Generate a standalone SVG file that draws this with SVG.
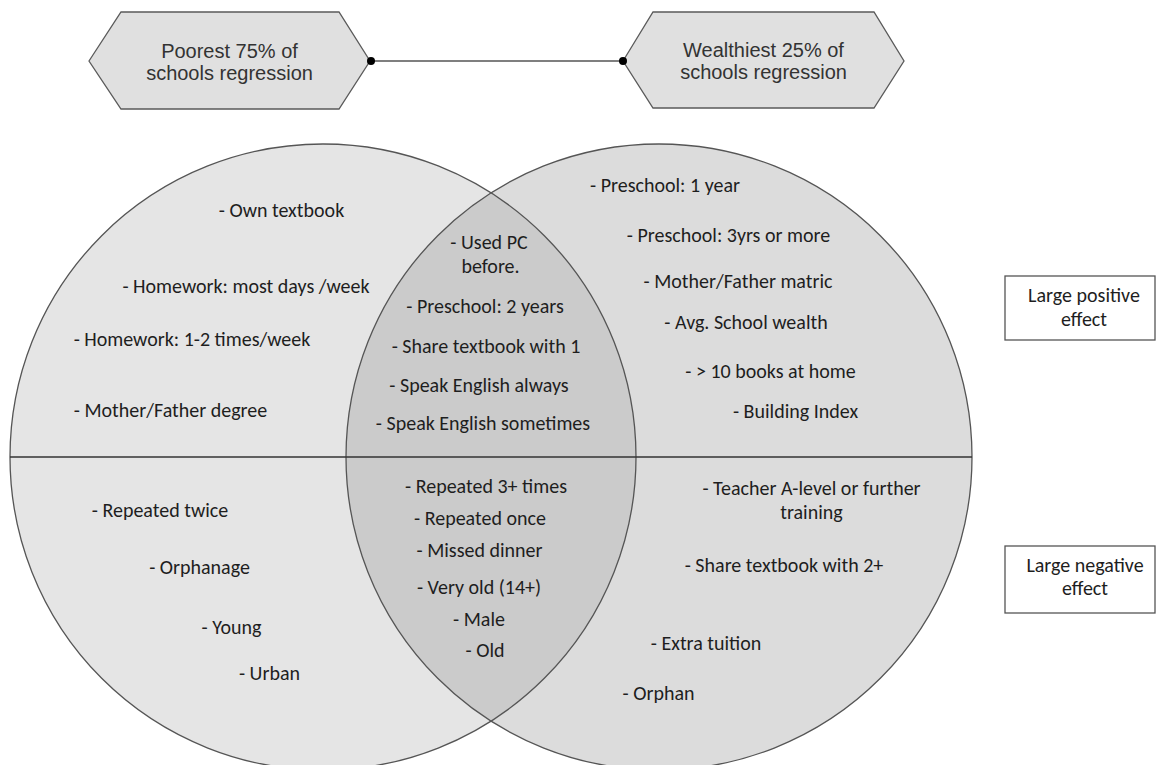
<svg xmlns="http://www.w3.org/2000/svg" width="1157" height="765" viewBox="0 0 1157 765">
<style>
.hex{fill:#e0e0e0;stroke:#5a5a5a;stroke-width:1.3}
.ht{font-family:"Liberation Sans",Arial,sans-serif;font-size:20px;fill:#333;text-anchor:middle}
.t{font-family:Carlito,Calibri,Lato,sans-serif;font-size:20px;fill:#1e1e1e;text-anchor:middle}
.box{fill:#fff;stroke:#555;stroke-width:1.3}
.outline{fill:none;stroke:#555;stroke-width:1.3}
</style>
<rect width="1157" height="765" fill="#fff"/>
<g id="venn">
<circle cx="323" cy="457" r="313" fill="#e5e5e5"/>
<circle cx="659" cy="457" r="313" fill="#dcdcdc"/>
<path d="M491,192.9 A313,313 0 0 1 491,721.1 A313,313 0 0 1 491,192.9 Z" fill="#cbcbcb"/>
<circle class="outline" cx="323" cy="457" r="313"/>
<circle class="outline" cx="659" cy="457" r="313"/>
<line x1="10" y1="457" x2="972" y2="457" stroke="#333" stroke-width="1.5"/>
</g>
<g id="node-poorest">
<polygon class="hex" points="89,61 121,12 339,12 370,61 339,109 121,109"/>
<text class="ht" x="229.5" y="58">Poorest 75% of</text>
<text class="ht" x="229.5" y="80">schools regression</text>
</g>
<g id="node-wealthiest">
<polygon class="hex" points="623,61 653,12 874,12 904,61 874,108 653,108"/>
<text class="ht" x="763.5" y="57">Wealthiest 25% of</text>
<text class="ht" x="763.5" y="79">schools regression</text>
</g>
<g id="connectors">
<line x1="371" y1="61" x2="623" y2="61" stroke="#555" stroke-width="1.5"/>
<circle cx="371" cy="61" r="4" fill="#000"/>
<circle cx="623" cy="61" r="4" fill="#000"/>
</g>
<g id="node-positive">
<rect class="box" x="1005" y="276" width="150" height="64"/>
<text class="t" x="1084" y="302">Large positive</text>
<text class="t" x="1084" y="326">effect</text>
</g>
<g id="node-negative">
<rect class="box" x="1005" y="546" width="150" height="67"/>
<text class="t" x="1085" y="572">Large negative</text>
<text class="t" x="1085" y="595">effect</text>
</g>
<g id="left-upper">
<text class="t" x="281.5" y="217">- Own textbook</text>
<text class="t" x="246" y="293">- Homework: most days /week</text>
<text class="t" x="192" y="346">- Homework: 1-2 times/week</text>
<text class="t" x="170.5" y="417">- Mother/Father degree</text>
</g>
<g id="left-lower">
<text class="t" x="160" y="517">- Repeated twice</text>
<text class="t" x="199.5" y="574">- Orphanage</text>
<text class="t" x="231.5" y="634">- Young</text>
<text class="t" x="269.5" y="680">- Urban</text>
</g>
<g id="both-upper">
<text class="t" x="489" y="249">- Used PC</text>
<text class="t" x="490.5" y="273">before.</text>
<text class="t" x="485" y="313">- Preschool: 2 years</text>
<text class="t" x="486" y="353">- Share textbook with 1</text>
<text class="t" x="479" y="392">- Speak English always</text>
<text class="t" x="483" y="430">- Speak English sometimes</text>
</g>
<g id="both-lower">
<text class="t" x="486" y="493">- Repeated 3+ times</text>
<text class="t" x="480" y="525">- Repeated once</text>
<text class="t" x="479.5" y="557">- Missed dinner</text>
<text class="t" x="479" y="594">- Very old (14+)</text>
<text class="t" x="479" y="626">- Male</text>
<text class="t" x="485" y="657">- Old</text>
</g>
<g id="right-upper">
<text class="t" x="665" y="192">- Preschool: 1 year</text>
<text class="t" x="728.5" y="242">- Preschool: 3yrs or more</text>
<text class="t" x="738" y="288">- Mother/Father matric</text>
<text class="t" x="746" y="329">- Avg. School wealth</text>
<text class="t" x="770.5" y="378">- &gt; 10 books at home</text>
<text class="t" x="795.5" y="418">- Building Index</text>
</g>
<g id="right-lower">
<text class="t" x="811.5" y="495">- Teacher A-level or further</text>
<text class="t" x="811.5" y="519">training</text>
<text class="t" x="784" y="572">- Share textbook with 2+</text>
<text class="t" x="706" y="650">- Extra tuition</text>
<text class="t" x="658.5" y="700">- Orphan</text>
</g>
</svg>
